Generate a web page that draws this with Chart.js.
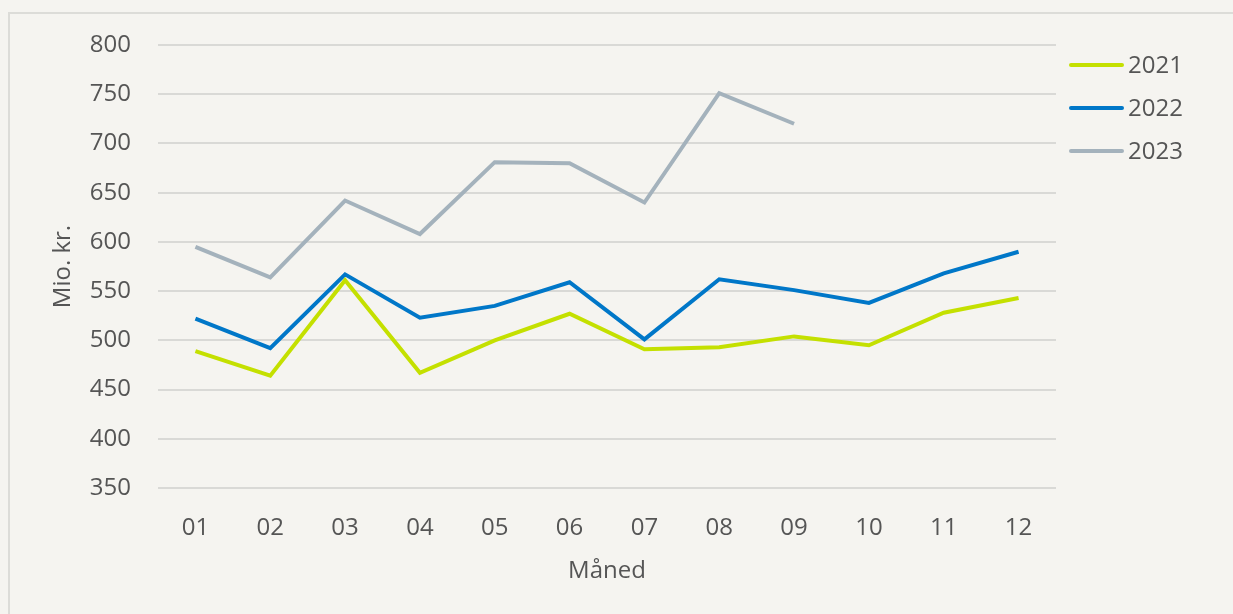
<!DOCTYPE html>
<html>
<head>
<meta charset="utf-8">
<script src="https://cdn.jsdelivr.net/npm/chart.js@4"></script>
<style>
	html, body { margin: 0; padding: 0; background: #f5f4f0; }
	#wrap { position: relative; width: 1233px; height: 614px; overflow: hidden; }
	#frame { position: absolute; left: 8px; top: 12px; width: 1300px; height: 700px; border: 2px solid #dcdcd8; box-sizing: border-box; }
	canvas { position: absolute; left: 0; top: 0; }
</style>
</head>
<body>
<div id="wrap">
	<div id="frame"></div>
	<canvas id="chart-line" width="1233" height="614"></canvas>
</div>
<script>
const MONTHS = ["01", "02", "03", "04", "05", "06", "07", "08", "09", "10", "11", "12"];
const SERIES_NAMES = ["2021", "2022", "2023"];
const VALUES_2021 = [489, 464, 561, 467, 500, 527, 491, 493, 504, 495, 528, 543];
const VALUES_2022 = [522, 492, 567, 523, 535, 559, 501, 562, 551, 538, 568, 590];
const VALUES_2023 = [595, 564, 642, 608, 681, 680, 640, 751, 720];
const Y_MIN = 350;
const Y_MAX = 800;
const Y_STEP = 50;

const COLORS = ["#c4e000", "#0077c8", "#a4b2bc"];
const TEXT = "#555555";
const FONT = "'Open Sans', sans-serif";
const FONT_SIZE = 24;

// legend drawn by hand to sit where the original puts it
const sideLegend = {
	id: "sideLegend",
	afterDraw(chart) {
		const ctx = chart.ctx;
		ctx.save();
		ctx.font = FONT_SIZE + "px " + FONT;
		ctx.fillStyle = TEXT;
		ctx.textBaseline = "middle";
		chart.data.datasets.forEach((ds, i) => {
			const y = 65 + i * 43;
			ctx.strokeStyle = ds.borderColor;
			ctx.lineWidth = 4;
			ctx.lineCap = "round";
			ctx.beginPath();
			ctx.moveTo(1071, y);
			ctx.lineTo(1122, y);
			ctx.stroke();
			ctx.fillText(ds.label, 1128, y + 1);
		});
		ctx.restore();
	},
};

const DATA = {
	labels: MONTHS,
	datasets: [VALUES_2021, VALUES_2022, VALUES_2023].map((vals, i) => ({
		label: SERIES_NAMES[i],
		data: vals,
		borderColor: COLORS[i],
		backgroundColor: COLORS[i],
		borderWidth: 4,
		pointRadius: 0,
		tension: 0,
		borderJoinStyle: "miter",
	})),
};

const CONFIG = {
	type: "line",
	data: DATA,
	options: {
		responsive: false,
		animation: false,
		layout: {
			padding: { left: 0, right: 177, top: 45, bottom: 0 },
		},
		plugins: {
			legend: { display: false },
			tooltip: { enabled: false },
		},
		scales: {
			x: {
				offset: true,
				border: { display: false },
				grid: { display: false, drawTicks: false },
				ticks: {
					color: TEXT,
					padding: 26,
					font: { family: FONT, size: FONT_SIZE },
				},
				title: {
					display: true,
					text: "Måned",
					color: TEXT,
					font: { family: FONT, size: FONT_SIZE },
					padding: { top: 0, bottom: 28 },
				},
				afterFit: (scale) => {
					scale.height = 126;
				},
			},
			y: {
				min: Y_MIN,
				max: Y_MAX,
				border: { display: false },
				grid: {
					color: "#d9d9d6",
					lineWidth: 2,
					drawTicks: false,
				},
				ticks: {
					stepSize: Y_STEP,
					color: TEXT,
					padding: 27,
					font: { family: FONT, size: FONT_SIZE },
				},
				title: {
					display: true,
					text: "Mio. kr.",
					color: TEXT,
					font: { family: FONT, size: FONT_SIZE },
					padding: { top: 49, bottom: 0 },
				},
				afterFit: (scale) => {
					scale.width = 158;
				},
			},
		},
	},
	plugins: [sideLegend],
};

new Chart(document.getElementById("chart-line"), CONFIG);
</script>
</body>
</html>
